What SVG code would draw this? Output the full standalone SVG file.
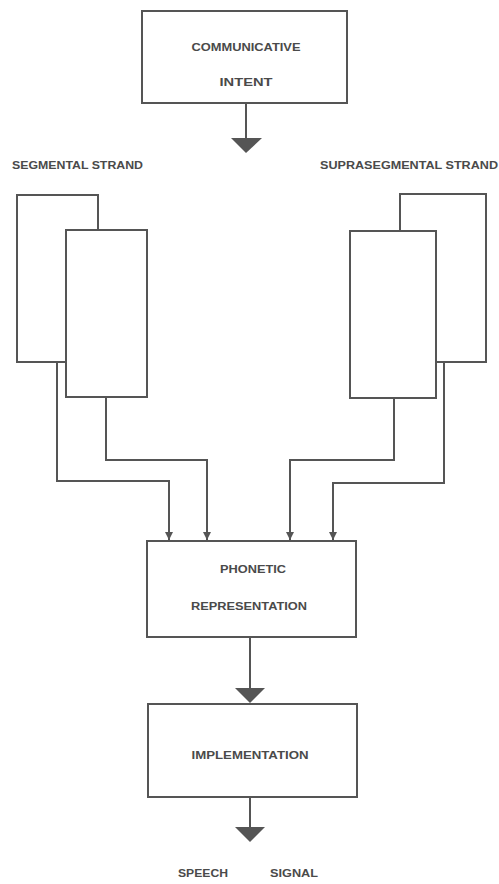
<svg xmlns="http://www.w3.org/2000/svg" width="499" height="884" viewBox="0 0 499 884">
<defs>
<marker id="sm" viewBox="0 0 8 8" refX="8" refY="4" markerWidth="8" markerHeight="8" markerUnits="userSpaceOnUse" orient="auto">
<path d="M0,0 L8,4 L0,8 Z" fill="#555"/>
</marker>
<style>
.box{fill:#fff;stroke:#555;stroke-width:2}
.ln{fill:none;stroke:#555;stroke-width:2}
.tri{fill:#555}
.t{font-family:"Liberation Sans",Arial,sans-serif;font-size:10px;font-weight:bold;fill:#4a4a4a}
</style>
</defs>
<rect width="499" height="884" fill="#fff"/>
<g id="connectors">
<path class="ln" d="M246,103 V140"/>
<path class="ln" d="M250,637 V690"/>
<path class="ln" d="M250,797 V829"/>
<path class="ln" d="M57,362 V481 H169 V540" marker-end="url(#sm)"/>
<path class="ln" d="M106,397 V460 H207 V540" marker-end="url(#sm)"/>
<path class="ln" d="M394,398 V460 H290 V540" marker-end="url(#sm)"/>
<path class="ln" d="M444,362 V483 H333 V540" marker-end="url(#sm)"/>
<path class="tri" d="M231,138 L262,138 L246,153 Z"/>
<path class="tri" d="M235,688 L265,688 L250,703 Z"/>
<path class="tri" d="M235,827 L265,827 L250,842 Z"/>
</g>
<g id="intent">
<rect class="box" x="142" y="11" width="205" height="92"/>
<text class="t" x="246" y="51" text-anchor="middle" textLength="109" lengthAdjust="spacingAndGlyphs">COMMUNICATIVE</text>
<text class="t" x="246" y="86" text-anchor="middle" textLength="53" lengthAdjust="spacingAndGlyphs">INTENT</text>
</g>
<g id="segmental">
<text class="t" x="12" y="169" textLength="131" lengthAdjust="spacingAndGlyphs">SEGMENTAL STRAND</text>
<rect class="box" x="17" y="195" width="81" height="167"/>
<rect class="box" x="66" y="230" width="81" height="167"/>
</g>
<g id="suprasegmental">
<text class="t" x="320" y="169" textLength="178" lengthAdjust="spacingAndGlyphs">SUPRASEGMENTAL STRAND</text>
<rect class="box" x="400" y="194" width="86" height="168"/>
<rect class="box" x="350" y="231" width="86" height="167"/>
</g>
<g id="phonetic">
<rect class="box" x="147" y="541" width="209" height="96"/>
<text class="t" x="253" y="573" text-anchor="middle" textLength="66" lengthAdjust="spacingAndGlyphs">PHONETIC</text>
<text class="t" x="249" y="610" text-anchor="middle" textLength="116" lengthAdjust="spacingAndGlyphs">REPRESENTATION</text>
</g>
<g id="implementation">
<rect class="box" x="148" y="704" width="209" height="93"/>
<text class="t" x="250" y="759" text-anchor="middle" textLength="117" lengthAdjust="spacingAndGlyphs">IMPLEMENTATION</text>
</g>
<g id="output">
<text class="t" x="178" y="877" textLength="50" lengthAdjust="spacingAndGlyphs">SPEECH</text>
<text class="t" x="270" y="877" textLength="48" lengthAdjust="spacingAndGlyphs">SIGNAL</text>
</g>
</svg>
